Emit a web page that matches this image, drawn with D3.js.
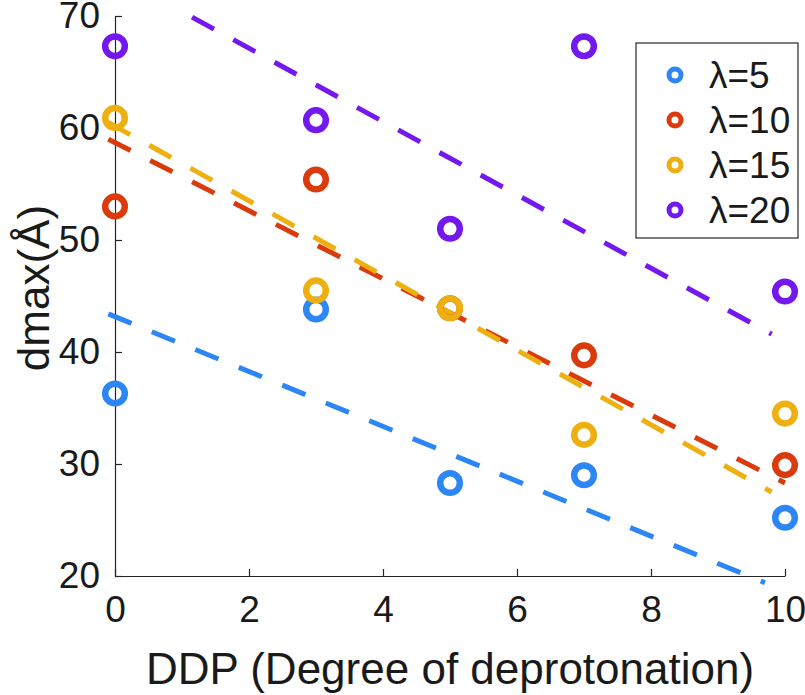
<!DOCTYPE html>
<html>
<head>
<meta charset="utf-8">
<script src="https://cdn.jsdelivr.net/npm/d3@7"></script>
<style>
  body { margin: 0; background: #fff; }
  text { font-family: "Liberation Sans", Arial, Helvetica, sans-serif; fill: #1a1a1a; }
</style>
</head>
<body>
<svg id="one" width="805" height="695"></svg>
<script>
const svg = d3.select('#one');

// data
const ddp = [0, 3, 5, 7, 10];
const seriesNames = ['\u03bb=5', '\u03bb=10', '\u03bb=15', '\u03bb=20'];
const lambda5 = [36.3, 43.8, 28.3, 29.0, 25.2];
const lambda10 = [53.0, 55.4, 43.9, 39.7, 29.9];
const lambda15 = [60.9, 45.5, 43.9, 32.6, 34.5];
const lambda20 = [67.3, 60.7, 51.0, 67.3, 45.4];
// dashed trend lines: [x start, y start, x end, y end]
const trend5 = [-0.1, 43.4, 9.7, 19.4];
const trend10 = [-0.1, 59.0, 10, 28.3];
const trend15 = [-0.1, 60.5, 9.8, 27.5];
const trend20 = [1.15, 69.9, 9.8, 41.6];
const xTicks = [0, 2, 4, 6, 8, 10];
const yTicks = [20, 30, 40, 50, 60, 70];

const colors = ['#2d86f5', '#da3a0c', '#eeb011', '#7318ee'];
const series = [lambda5, lambda10, lambda15, lambda20];
const trends = [trend5, trend10, trend15, trend20];

const margin = { left: 115, right: 20, top: 16, bottom: 119 };
const width = +svg.attr('width');
const height = +svg.attr('height');
const innerWidth = width - margin.left - margin.right;
const innerHeight = height - margin.top - margin.bottom;

const xScale = d3.scaleLinear().domain([0, 10]).range([0, innerWidth]);
const yScale = d3.scaleLinear().domain([20, 70]).range([innerHeight, 0]);

const g = svg.append('g')
    .attr('transform', 'translate(' + margin.left + ',' + margin.top + ')');

// axes, ticks pointing inward
const xAxis = g.append('g')
    .attr('transform', 'translate(0,' + innerHeight + ')')
    .call(d3.axisBottom(xScale).tickValues(xTicks).tickSizeInner(-7).tickSizeOuter(0).tickPadding(20));
const yAxis = g.append('g')
    .call(d3.axisLeft(yScale).tickValues(yTicks).tickSizeInner(-7).tickSizeOuter(0).tickPadding(15));

[xAxis, yAxis].forEach(a => {
  a.select('.domain').attr('stroke', '#262626').attr('stroke-width', 1.2);
  a.selectAll('.tick line').attr('stroke', '#262626').attr('stroke-width', 1.2);
  a.selectAll('.tick text')
      .style('font-size', '37px')
      .style('font-family', '"Liberation Sans", Arial, sans-serif')
      .attr('fill', '#1a1a1a');
});
xAxis.selectAll('.tick text').attr('dy', '0.71em');

// axis labels
g.append('text')
    .attr('x', innerWidth / 2)
    .attr('y', innerHeight + 108)
    .style('text-anchor', 'middle')
    .style('font-size', '44px')
    .text('DDP (Degree of deprotonation)');

g.append('text')
    .attr('transform', 'rotate(-90)')
    .attr('x', -innerHeight / 2 + 8)
    .attr('y', -66)
    .style('text-anchor', 'middle')
    .style('font-size', '44px')
    .text('dmax(\u00c5)');

// dashed trend lines
const line = d3.line().x(d => xScale(d[0])).y(d => yScale(d[1]));
trends.forEach((t, i) => {
  g.append('path')
      .datum([[t[0], t[1]], [t[2], t[3]]])
      .attr('d', line)
      .attr('fill', 'none')
      .attr('stroke', colors[i])
      .attr('stroke-width', 5)
      .attr('stroke-dasharray', '25,22');
});

// markers
series.forEach((vals, i) => {
  g.selectAll('.pt' + i)
      .data(vals)
      .enter()
      .append('circle')
      .attr('class', 'pt' + i)
      .attr('cx', (d, j) => xScale(ddp[j]))
      .attr('cy', d => yScale(d))
      .attr('r', 9.8)
      .attr('fill', 'none')
      .attr('stroke', colors[i])
      .attr('stroke-width', 6.5);
});

// legend
const legend = svg.append('g').attr('transform', 'translate(636,43)');
legend.append('rect')
    .attr('width', 162)
    .attr('height', 195)
    .attr('fill', '#fff')
    .attr('stroke', '#262626')
    .attr('stroke-width', 1.2);

seriesNames.forEach((name, i) => {
  const row = legend.append('g').attr('transform', 'translate(0,' + (32 + i * 45) + ')');
  row.append('circle')
      .attr('cx', 39)
      .attr('r', 6)
      .attr('fill', 'none')
      .attr('stroke', colors[i])
      .attr('stroke-width', 5);
  row.append('text')
      .attr('x', 73)
      .attr('dy', '0.36em')
      .style('font-size', '37px')
      .text(name);
});
</script>
</body>
</html>
